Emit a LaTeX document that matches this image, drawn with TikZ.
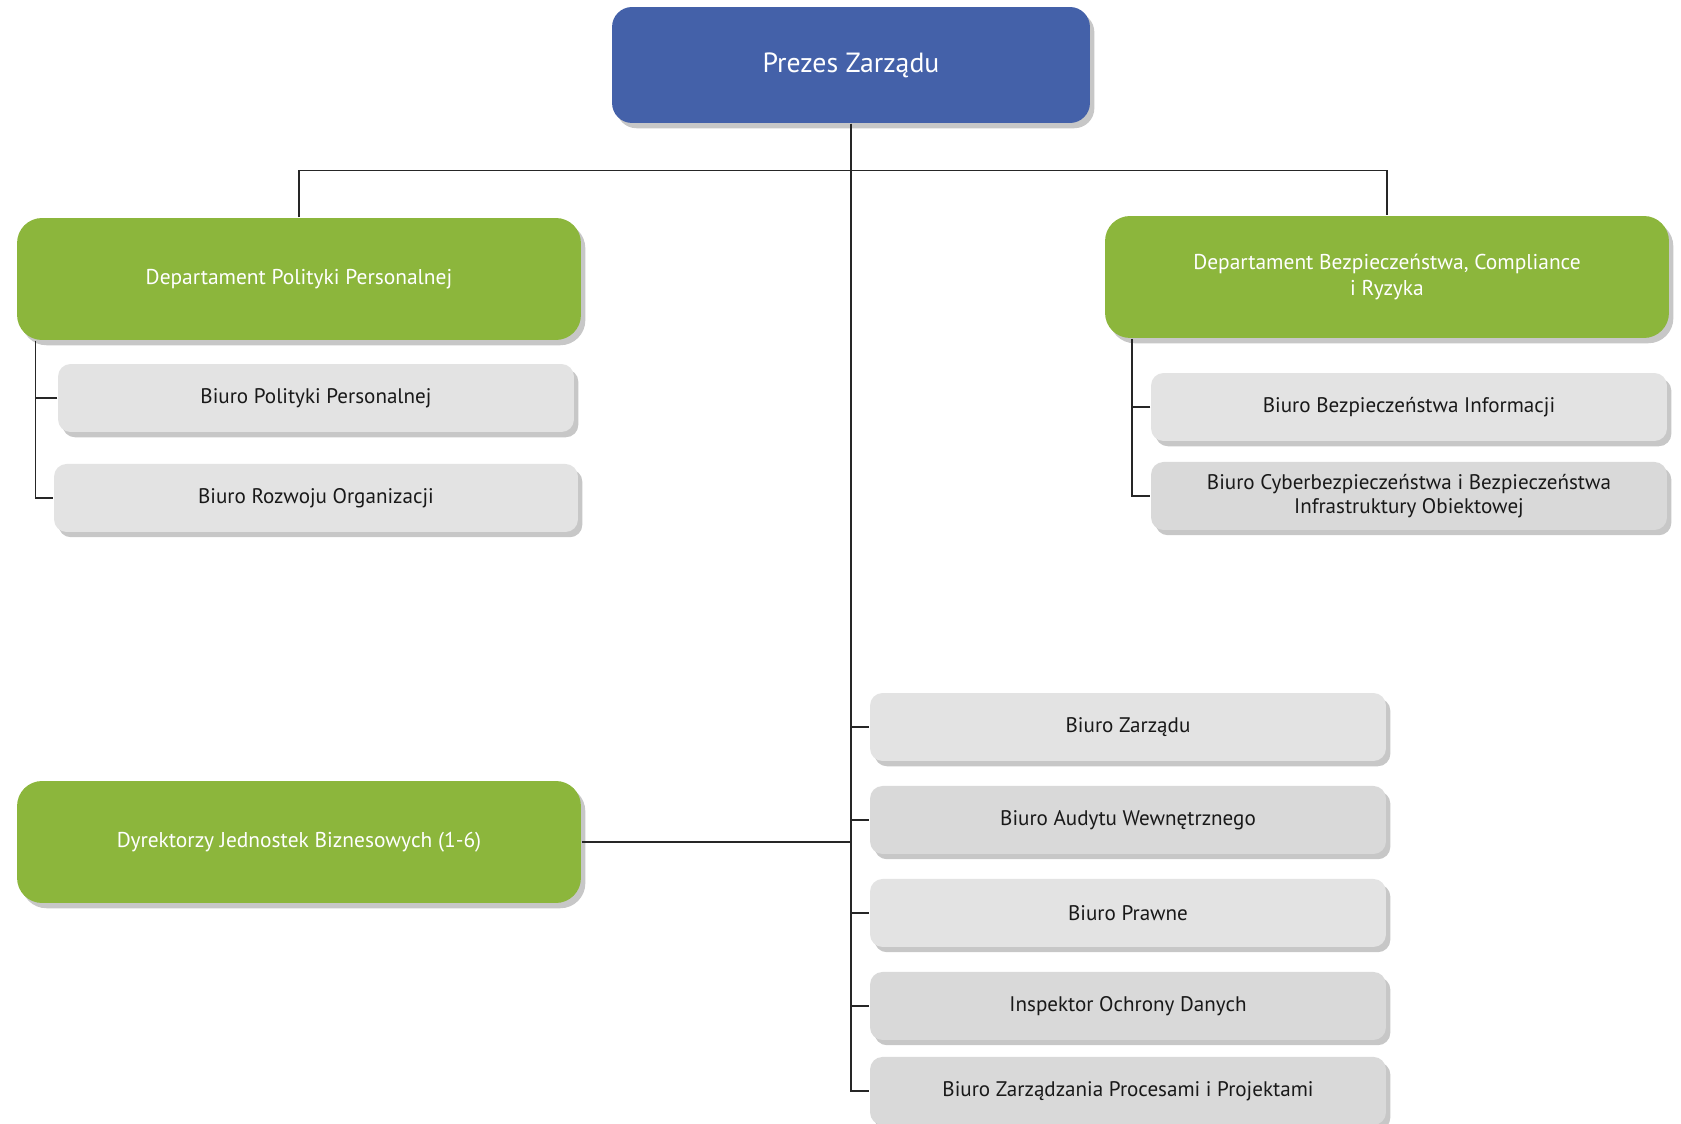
\documentclass[tikz,border=0pt]{standalone}
\usepackage{fontspec}
\setmainfont{PT Sans}
\usetikzlibrary{positioning}
\usetikzlibrary{shadows}
\definecolor{kolorPrezes}{HTML}{4461A9}
\definecolor{kolorDept}{HTML}{8CB63C}
\definecolor{kolorBiuro}{HTML}{E3E3E3}
\definecolor{kolorBiuroB}{HTML}{D9D9D9}
\definecolor{kolorLinia}{HTML}{262626}

\begin{document}
\begin{tikzpicture}[x=0.02cm,y=-0.02cm,line width=0.8pt,draw=kolorLinia,node distance=1.86cm]
				\tikzstyle{cien}=[drop shadow={shadow xshift=2.5pt,shadow yshift=-3pt,fill=black,opacity=.22}]
				\tikzstyle{prezes}=[rectangle,rounded corners=0.4cm,fill=kolorPrezes,text=white,minimum width=9.56cm,minimum height=2.32cm,font=\fontsize{15.8}{19}\selectfont,cien]
				\tikzstyle{dept}=[rectangle,rounded corners=0.5cm,fill=kolorDept,text=white,minimum width=11.28cm,minimum height=2.44cm,align=center,font=\fontsize{12.2}{14.8}\selectfont,cien]
				\tikzstyle{biuro}=[rectangle,rounded corners=0.25cm,fill=kolorBiuro,text=black!90,minimum width=10.32cm,minimum height=1.36cm,align=center,font=\fontsize{12}{14}\selectfont,cien]
				\tikzstyle{biuroB}=[biuro,fill=kolorBiuroB]
				
				\useasboundingbox (0,0) rectangle (1681,1124);
				
				\node[prezes]  (prezes)  at (851,65)   {Prezes Zarządu};
				\node[dept]    (dpp)     at (299,279)  {Departament Polityki Personalnej};
				\node[dept]    (dbcr)    at (1387,277) {Departament Bezpieczeństwa, Compliance\\i Ryzyka};
				\node[dept]    (dyr)     at (299,842)  {Dyrektorzy Jednostek Biznesowych (1-6)};
				
				\node[biuro]   (bpp)     at (316,398)  {Biuro Polityki Personalnej};
				\node[biuro,minimum width=10.48cm] (bro) [below of=bpp,node distance=2cm] {Biuro Rozwoju Organizacji};
				
				\node[biuro]   (bbi)     at (1409,407) {Biuro Bezpieczeństwa Informacji};
				\node[biuroB]  (bcb)     [below of=bbi,node distance=1.78cm] {Biuro Cyberbezpieczeństwa i Bezpieczeństwa\\Infrastruktury Obiektowej};
				
				\node[biuro]   (bz)      at (1128,727) {Biuro Zarządu};
				\node[biuroB]  (baw)     [below of=bz]  {Biuro Audytu Wewnętrznego};
				\node[biuro]   (bpr)     [below of=baw] {Biuro Prawne};
				\node[biuroB]  (iod)     [below of=bpr] {Inspektor Ochrony Danych};
				\node[biuroB]  (bzpp)    [below of=iod,node distance=1.7cm] {Biuro Zarządzania Procesami i Projektami};
				
				% linie
				\draw (prezes.south) -- ++(0,47) coordinate (hub);
				\draw (dpp.north) |- (hub) -| (dbcr.north);
				\draw (prezes.south) |- (bzpp.west);
				\foreach \b in {bz,baw,bpr,iod}
					\draw (\b.west -| prezes.south) -- (\b.west);
				\draw (dyr.east) -- (dyr.east -| prezes.south);
				
				\draw ([xshift=0.38cm]dpp.south west) coordinate (lbr) |- (bro.west);
				\draw (bpp.west) -- (bpp.west -| lbr);
				\draw ([xshift=0.55cm]dbcr.south west) coordinate (rbr) |- (bcb.west);
				\draw (bbi.west) -- (bbi.west -| rbr);
\end{tikzpicture}
\end{document}
